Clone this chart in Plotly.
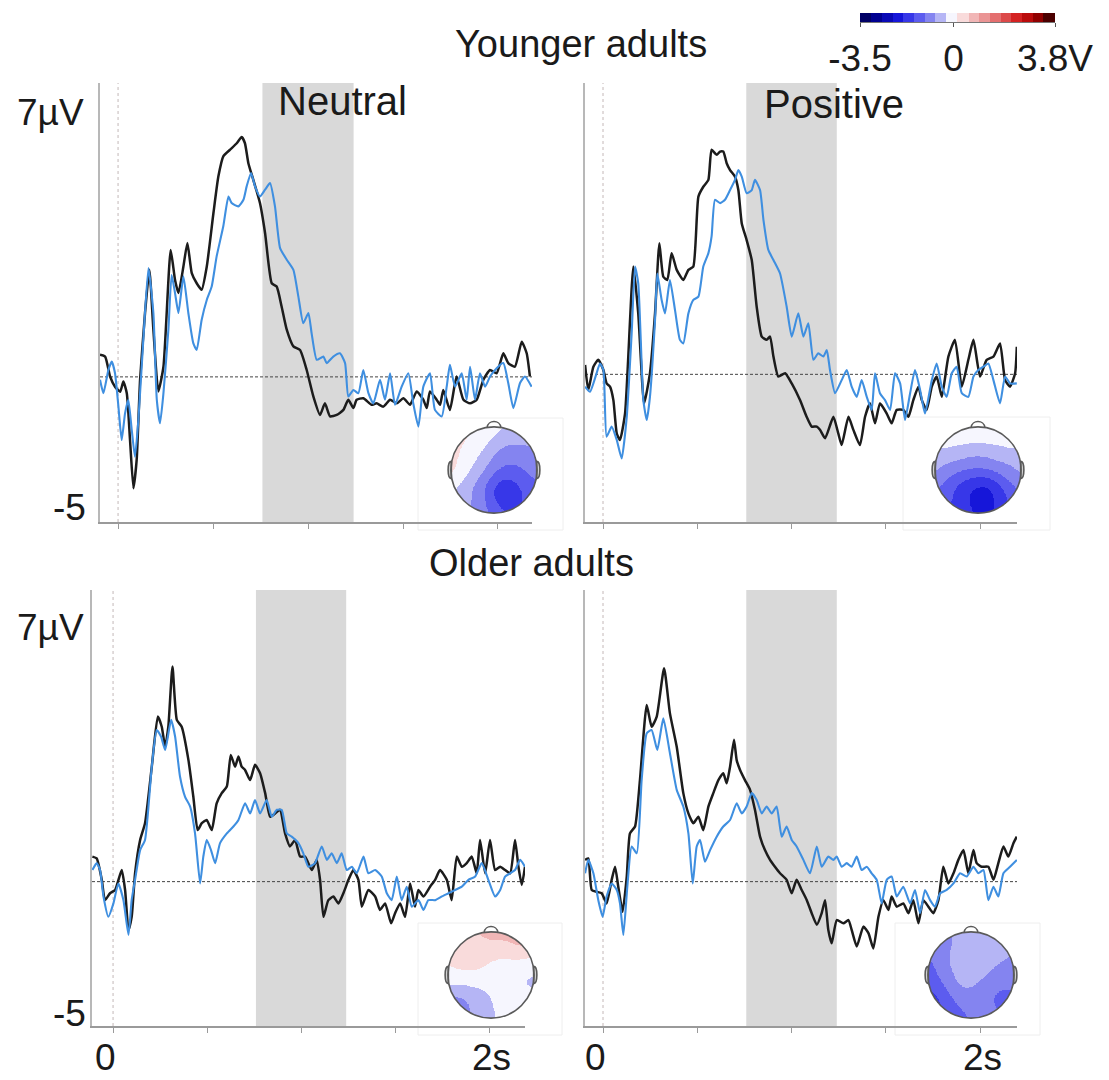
import numpy as np
import plotly.graph_objects as go

W, H = 1109, 1080
FONT = "Liberation Sans, Arial, sans-serif"
INK = "#1a1a1a"
BLACK_LINE = "#1c1c1c"
BLUE_LINE = "#3f8fe0"
SHADE = "#d9d9d9"

# ---------------------------------------------------------------------------
# ERP waveforms: (time in s, amplitude in µV)
# ---------------------------------------------------------------------------
young_neutral_black = [
    (-0.095, 0.61), (-0.068, 0.56), (-0.042, 0.01), (-0.016, -0.27), (0.011, -0.41), (0.028, -0.13),
    (0.046, -0.45), (0.063, -1.74), (0.081, -3.07), (0.098, -2.29), (0.116, -0.08), (0.142, 1.76),
    (0.165, 2.95), (0.186, 1.30), (0.212, -0.40), (0.239, 0.28), (0.277, 3.50), (0.300, 2.67),
    (0.318, 2.31), (0.344, 3.04), (0.365, 3.69), (0.388, 2.86), (0.414, 2.58), (0.440, 2.40),
    (0.467, 3.04), (0.502, 4.51), (0.528, 5.52), (0.554, 6.08), (0.589, 6.26), (0.625, 6.44),
    (0.651, 6.61), (0.668, 6.44), (0.686, 5.89), (0.712, 5.43), (0.747, 4.79), (0.774, 3.96),
    (0.809, 2.58), (0.835, 2.49), (0.861, 1.94), (0.888, 1.30), (0.923, 0.84), (0.958, 0.74),
    (0.993, 0.19), (1.028, -0.54), (1.063, -1.05), (1.089, -0.73), (1.116, -1.09), (1.151, -1.05),
    (1.186, -0.91), (1.212, -0.63), (1.239, -0.86), (1.256, -0.63), (1.291, -0.59), (1.335, -0.77),
    (1.361, -0.73), (1.396, -0.82), (1.432, -0.63), (1.467, -0.73), (1.502, -0.59), (1.537, -0.77),
    (1.572, -0.40), (1.607, -0.63), (1.625, -0.86), (1.642, -0.40), (1.677, -0.63), (1.695, -0.77),
    (1.712, -0.36), (1.747, -0.91), (1.782, 0.01), (1.818, -0.63), (1.853, -0.73), (1.888, -0.63),
    (1.923, -0.08), (1.958, 0.19), (1.993, 0.10), (2.028, 0.65), (2.054, 0.38), (2.089, 0.28),
    (2.125, 0.97), (2.151, 0.65), (2.168, 0.01),
]
young_neutral_blue = [
    (-0.095, -0.08), (-0.077, -0.45), (-0.051, 0.19), (-0.033, 0.42), (-0.016, 0.10), (0.002, -0.82),
    (0.019, -1.74), (0.037, -1.00), (0.054, -0.63), (0.072, -1.46), (0.089, -2.20), (0.107, -1.19),
    (0.133, 1.02), (0.160, 3.00), (0.186, 1.76), (0.204, -0.63), (0.221, -1.28), (0.239, -0.45),
    (0.265, 1.30), (0.282, 2.81), (0.300, 2.31), (0.318, 1.76), (0.344, 2.77), (0.370, 1.76),
    (0.396, 0.93), (0.414, 0.74), (0.440, 1.57), (0.467, 2.12), (0.493, 2.49), (0.519, 3.32),
    (0.554, 4.15), (0.581, 4.97), (0.598, 4.79), (0.633, 4.70), (0.660, 4.88), (0.677, 5.25),
    (0.700, 5.62), (0.721, 5.25), (0.747, 4.97), (0.774, 5.16), (0.800, 5.34), (0.826, 4.70),
    (0.853, 3.55), (0.888, 3.23), (0.923, 2.95), (0.949, 2.22), (0.975, 1.48), (1.002, 1.76),
    (1.019, 1.20), (1.046, 0.47), (1.081, 0.56), (1.098, 0.38), (1.133, 0.56), (1.168, 0.65),
    (1.195, 0.38), (1.212, -0.54), (1.239, -0.36), (1.265, -0.45), (1.291, 0.19), (1.318, -0.45),
    (1.344, -0.73), (1.379, -0.08), (1.405, -0.63), (1.432, 0.10), (1.458, -0.77), (1.493, -0.27),
    (1.528, 0.10), (1.554, -0.73), (1.581, -1.37), (1.607, -0.27), (1.642, 0.10), (1.668, -0.91),
    (1.704, -1.09), (1.730, -0.27), (1.747, 0.33), (1.774, -0.27), (1.809, 0.10), (1.835, -0.63),
    (1.853, 0.28), (1.879, -0.63), (1.905, 0.10), (1.932, -0.27), (1.958, 0.01), (1.993, 0.24),
    (2.028, 0.38), (2.054, -0.17), (2.081, -0.86), (2.116, -0.17), (2.142, 0.01), (2.177, -0.27),
]
young_positive_black = [
    (-0.095, 0.26), (-0.078, -0.43), (-0.051, 0.21), (-0.025, 0.40), (0.002, 0.12), (0.019, -0.25),
    (0.037, -0.34), (0.055, -0.71), (0.073, -1.63), (0.090, -1.81), (0.117, -1.08), (0.161, 2.97),
    (0.187, 1.68), (0.218, -0.80), (0.249, 0.03), (0.276, 1.68), (0.299, 3.61), (0.320, 2.69),
    (0.341, 2.60), (0.364, 3.34), (0.391, 2.88), (0.426, 2.60), (0.453, 2.88), (0.479, 2.97),
    (0.506, 4.90), (0.532, 5.17), (0.559, 5.36), (0.576, 6.19), (0.603, 6.05), (0.621, 6.14),
    (0.638, 6.14), (0.656, 5.82), (0.674, 5.63), (0.700, 5.45), (0.718, 5.08), (0.736, 4.16),
    (0.762, 3.70), (0.789, 3.15), (0.815, 1.87), (0.842, 1.04), (0.868, 0.95), (0.886, 1.04),
    (0.904, 0.49), (0.930, -0.06), (0.966, 0.03), (1.001, -0.25), (1.045, -0.71), (1.080, -1.17),
    (1.107, -1.44), (1.134, -1.44), (1.151, -1.53), (1.178, -1.76), (1.222, -1.17), (1.248, -1.63),
    (1.266, -1.95), (1.302, -1.17), (1.328, -1.53), (1.363, -1.95), (1.390, -1.17), (1.416, -0.80),
    (1.443, -1.35), (1.469, -0.80), (1.505, -1.08), (1.531, -1.35), (1.558, -0.98), (1.593, -0.98),
    (1.620, -1.17), (1.646, -0.71), (1.673, -0.34), (1.691, -0.71), (1.717, -0.98), (1.744, -0.34),
    (1.770, -0.06), (1.797, -0.62), (1.832, 0.49), (1.867, 0.95), (1.903, -0.34), (1.938, 0.40),
    (1.965, 0.95), (2.000, -0.06), (2.035, 0.40), (2.071, 0.49), (2.106, 0.85), (2.133, -0.16),
    (2.159, -0.34), (2.186, 0.03), (2.195, 0.76),
]
young_positive_blue = [
    (-0.095, -0.34), (-0.069, -0.48), (-0.034, 0.03), (-0.016, 0.30), (0.002, 0.12), (0.019, -1.72),
    (0.046, -1.44), (0.073, -1.81), (0.099, -2.32), (0.126, -1.17), (0.152, 1.13), (0.170, 2.97),
    (0.187, 2.51), (0.214, -0.71), (0.232, -1.26), (0.249, -0.62), (0.276, 1.50), (0.288, 2.78),
    (0.311, 2.05), (0.329, 1.68), (0.355, 2.60), (0.382, 1.77), (0.408, 0.95), (0.426, 0.85),
    (0.453, 1.68), (0.479, 2.05), (0.506, 2.14), (0.532, 2.97), (0.559, 3.34), (0.576, 3.80),
    (0.594, 4.81), (0.621, 4.72), (0.647, 4.81), (0.674, 5.08), (0.700, 5.36), (0.718, 5.63),
    (0.736, 5.45), (0.762, 4.99), (0.789, 5.08), (0.806, 5.36), (0.833, 5.08), (0.851, 4.26),
    (0.877, 3.43), (0.904, 3.15), (0.939, 2.78), (0.974, 1.87), (1.001, 1.04), (1.036, 1.68),
    (1.063, 1.04), (1.089, 1.41), (1.116, 0.40), (1.142, 0.58), (1.169, 0.49), (1.187, 0.67),
    (1.204, 0.12), (1.231, -0.52), (1.266, -0.16), (1.293, 0.12), (1.319, -0.34), (1.346, -0.62),
    (1.372, -0.16), (1.399, -0.62), (1.425, -0.98), (1.443, 0.03), (1.469, -0.52), (1.496, -0.71),
    (1.523, -0.98), (1.549, 0.03), (1.576, -0.25), (1.602, -1.26), (1.629, -0.52), (1.655, 0.12),
    (1.682, -0.43), (1.708, -1.08), (1.744, -0.16), (1.770, 0.30), (1.797, -0.34), (1.823, -0.62),
    (1.850, 0.03), (1.876, 0.21), (1.903, -0.52), (1.938, -0.62), (1.965, -0.06), (1.991, 0.12),
    (2.018, 0.21), (2.044, 0.30), (2.071, -0.16), (2.106, -0.80), (2.133, -0.06), (2.159, -0.25),
    (2.195, -0.25),
]
older_neutral_black = [
    (-0.110, 0.69), (-0.087, 0.64), (-0.060, 0.05), (-0.043, -0.51), (-0.016, -0.32), (0.011, -0.23),
    (0.046, 0.32), (0.064, -0.23), (0.082, -1.33), (0.099, -0.97), (0.117, 0.23), (0.144, 1.15),
    (0.170, 1.61), (0.206, 3.17), (0.238, 4.55), (0.259, 4.27), (0.277, 3.72), (0.294, 4.27),
    (0.316, 5.93), (0.339, 4.46), (0.365, 4.27), (0.401, 3.35), (0.427, 2.34), (0.450, 1.42),
    (0.472, 1.61), (0.498, 1.70), (0.525, 1.42), (0.551, 2.16), (0.578, 2.44), (0.605, 2.62),
    (0.626, 3.49), (0.649, 3.17), (0.667, 3.45), (0.684, 3.17), (0.702, 3.08), (0.729, 2.80),
    (0.755, 3.22), (0.782, 2.99), (0.809, 2.44), (0.835, 1.79), (0.862, 1.88), (0.888, 1.98),
    (0.915, 1.33), (0.941, 0.97), (0.968, 1.15), (0.995, 0.69), (1.021, 0.69), (1.057, 0.32),
    (1.083, 0.60), (1.101, 0.05), (1.119, -0.97), (1.145, -0.51), (1.172, -0.41), (1.199, -0.60),
    (1.225, -0.32), (1.252, 0.05), (1.278, 0.32), (1.305, 0.05), (1.323, -0.69), (1.358, -0.23),
    (1.394, -0.41), (1.420, -0.78), (1.447, -0.60), (1.479, -1.15), (1.500, -0.87), (1.527, -0.60),
    (1.553, -0.97), (1.580, -0.05), (1.606, -0.69), (1.624, -0.23), (1.651, -0.41), (1.686, -0.14),
    (1.713, 0.05), (1.739, 0.32), (1.775, 0.05), (1.801, -0.51), (1.828, 0.69), (1.855, 0.41),
    (1.881, 0.51), (1.908, 0.69), (1.934, 0.23), (1.952, 1.15), (1.979, 0.23), (2.005, 1.15),
    (2.032, 0.32), (2.059, 0.41), (2.085, 0.32), (2.112, 0.23), (2.138, 1.15), (2.156, 0.41),
    (2.174, -0.09), (2.191, 0.41),
]
older_neutral_blue = [
    (-0.110, 0.32), (-0.087, 0.51), (-0.069, 0.32), (-0.051, -0.41), (-0.025, -0.97), (0.002, -0.60),
    (0.028, -0.05), (0.055, -0.51), (0.082, -1.47), (0.099, -0.51), (0.117, 0.05), (0.144, 0.87),
    (0.170, 1.15), (0.206, 3.17), (0.232, 4.18), (0.255, 4.00), (0.277, 3.63), (0.309, 4.46),
    (0.330, 4.00), (0.356, 2.90), (0.383, 2.34), (0.410, 2.07), (0.436, 1.33), (0.463, -0.05),
    (0.480, 0.69), (0.498, 1.15), (0.521, 0.87), (0.543, 0.51), (0.569, 1.06), (0.605, 1.33),
    (0.640, 1.52), (0.667, 1.70), (0.702, 2.16), (0.729, 1.88), (0.755, 2.25), (0.782, 1.88),
    (0.817, 2.25), (0.844, 1.79), (0.871, 1.98), (0.897, 1.98), (0.924, 1.33), (0.950, 1.24),
    (0.986, 1.06), (1.012, 0.78), (1.039, 0.41), (1.074, 0.51), (1.110, 0.97), (1.137, 0.60),
    (1.163, 0.78), (1.190, 0.51), (1.216, 0.78), (1.243, 0.32), (1.270, 0.41), (1.296, 0.23),
    (1.332, 0.69), (1.358, 0.23), (1.394, 0.32), (1.429, 0.14), (1.456, -0.32), (1.482, -0.51),
    (1.509, 0.14), (1.535, -0.51), (1.562, -0.14), (1.589, -0.69), (1.624, -0.51), (1.651, -0.78),
    (1.677, -0.51), (1.713, -0.51), (1.748, -0.41), (1.784, -0.32), (1.819, -0.23), (1.855, -0.14),
    (1.890, 0.05), (1.926, 0.14), (1.961, 0.51), (1.996, 0.05), (2.032, -0.41), (2.059, -0.23),
    (2.085, 0.14), (2.112, 0.23), (2.138, 0.32), (2.165, 0.60), (2.191, 0.41),
]
older_positive_black = [
    (-0.095, 0.60), (-0.078, 0.64), (-0.060, -0.23), (-0.034, -0.28), (-0.007, -0.32), (0.019, -0.60),
    (0.046, 0.05), (0.064, 0.41), (0.081, -0.14), (0.104, -0.83), (0.126, 0.14), (0.143, 1.33),
    (0.170, 1.52), (0.196, 2.80), (0.232, 4.87), (0.258, 4.27), (0.285, 4.55), (0.324, 5.88),
    (0.355, 4.64), (0.391, 3.72), (0.426, 2.44), (0.453, 1.88), (0.479, 1.61), (0.506, 1.79),
    (0.532, 1.42), (0.559, 2.07), (0.585, 2.44), (0.612, 2.80), (0.638, 2.99), (0.656, 2.71),
    (0.674, 3.17), (0.695, 3.91), (0.709, 3.35), (0.727, 3.08), (0.753, 2.80), (0.780, 2.53),
    (0.806, 1.98), (0.833, 1.24), (0.859, 0.87), (0.886, 0.60), (0.912, 0.41), (0.939, 0.23),
    (0.974, 0.05), (1.001, -0.32), (1.027, 0.05), (1.054, -0.23), (1.081, -0.51), (1.107, -0.87),
    (1.134, -1.19), (1.160, -0.87), (1.178, -0.51), (1.195, -1.33), (1.213, -1.70), (1.240, -1.06),
    (1.275, -1.15), (1.302, -1.06), (1.319, -1.33), (1.346, -1.79), (1.381, -1.24), (1.408, -1.42),
    (1.434, -1.84), (1.461, -0.97), (1.487, -0.51), (1.514, -0.78), (1.531, -0.41), (1.558, -0.69),
    (1.593, -0.60), (1.620, -0.87), (1.646, -0.51), (1.673, -1.15), (1.699, -0.51), (1.726, -0.69),
    (1.752, -0.87), (1.779, -0.51), (1.805, 0.41), (1.832, -0.05), (1.859, 0.23), (1.885, 0.60),
    (1.912, 0.87), (1.938, 0.23), (1.965, 0.87), (1.982, 0.51), (2.009, 0.41), (2.044, 0.41),
    (2.071, 0.05), (2.097, 0.51), (2.124, 0.97), (2.150, 0.69), (2.177, 1.06), (2.195, 1.24),
]
older_positive_blue = [
    (-0.095, 0.23), (-0.078, 0.60), (-0.051, 0.23), (-0.025, -0.51), (-0.002, -0.97), (0.019, -0.41),
    (0.046, -0.05), (0.073, -0.23), (0.090, -0.60), (0.108, -1.47), (0.129, -0.14), (0.152, 0.97),
    (0.179, 0.78), (0.205, 2.80), (0.232, 4.09), (0.258, 4.18), (0.288, 3.63), (0.320, 4.50),
    (0.355, 3.54), (0.391, 2.53), (0.426, 2.07), (0.453, 1.33), (0.476, -0.05), (0.497, 0.97),
    (0.515, 1.15), (0.541, 0.55), (0.568, 0.87), (0.603, 1.24), (0.638, 1.52), (0.674, 1.70),
    (0.709, 2.16), (0.736, 1.88), (0.762, 2.07), (0.789, 2.44), (0.815, 2.25), (0.842, 1.88),
    (0.868, 2.07), (0.895, 1.88), (0.921, 2.07), (0.948, 1.24), (0.974, 1.52), (1.001, 1.15),
    (1.027, 0.97), (1.063, 0.60), (1.098, 0.23), (1.134, 0.97), (1.160, 0.41), (1.195, 0.69),
    (1.222, 0.60), (1.240, 0.69), (1.266, 0.41), (1.293, 0.51), (1.319, 0.41), (1.346, 0.69),
    (1.372, 0.32), (1.399, 0.41), (1.425, 0.23), (1.452, 0.05), (1.478, -0.60), (1.505, 0.05),
    (1.531, 0.14), (1.558, -0.41), (1.593, -0.14), (1.629, -0.60), (1.655, -0.23), (1.682, -0.87),
    (1.708, -0.23), (1.735, -0.51), (1.761, -0.69), (1.788, -0.32), (1.823, -0.23), (1.859, -0.05),
    (1.894, 0.23), (1.929, 0.14), (1.965, 0.41), (1.991, 0.23), (2.018, 0.32), (2.044, -0.51),
    (2.071, -0.14), (2.097, -0.41), (2.124, 0.23), (2.159, 0.41), (2.195, 0.60),
]

# analysis window highlighted in every panel (s)
window_start, window_end = 0.76, 1.24

# time ticks (s) and the two labelled ones
time_ticks = [0, 0.5, 1.0, 1.5, 2.0]
time_labels = [(0, "0"), (2.0, "2s")]

# ---------------------------------------------------------------------------
# Scalp maps: electrode layout on a unit head (nose up) and window amplitudes
# ---------------------------------------------------------------------------
electrode_x = [0.0, -0.6, 0.6, -0.3, 0.3, -0.9, -0.45, 0.0, 0.45, 0.9, -0.35, 0.2, -0.7, 0.7, -0.3, 0.3]
electrode_y = [0.9, 0.62, 0.62, 0.35, 0.35, 0.05, 0.0, 0.0, 0.0, 0.05, -0.4, -0.45, -0.55, -0.55, -0.85, -0.85]
topo_young_neutral = [-0.1, 0.3, -0.5, -0.3, -0.9, 0.4, -0.2, -1.0, -1.3, -0.8, -1.1, -2.4, -0.2, -1.3, -0.8, -1.4]
topo_young_positive = [0.1, 0.0, 0.0, -0.4, -0.4, -0.5, -1.0, -1.2, -1.0, -0.5, -2.1, -2.6, -1.0, -1.1, -1.8, -1.9]
topo_older_neutral = [0.7, 0.4, 0.8, 0.3, 0.1, 0.1, 0.3, 0.0, -0.4, -0.3, -0.5, -0.05, -1.0, -0.2, -0.6, -0.1]
topo_older_positive = [-0.3, -1.0, -0.5, -0.2, -0.1, -1.3, -0.9, -0.05, -1.1, -0.9, -0.4, -1.1, -2.0, -1.2, -1.2, -0.9]

# colour scale of the scalp maps
color_min, color_max = -3.5, 3.8
colorbar_ticks = [-3.5, 0, 3.8]
colorbar_labels = ["-3.5", "0", "3.8V"]
palette = [(-3.5, "#000050"), (-2.8, "#00009a"), (-2.1, "#1414d8"), (-1.5, "#4646ee"),
           (-0.9, "#8080f0"), (-0.4, "#bcbcf6"), (0.0, "#ffffff"), (0.5, "#f6cccc"),
           (1.1, "#eb9a9a"), (1.8, "#e05a5a"), (2.5, "#d21616"), (3.1, "#a00000"),
           (3.8, "#280000")]


def hex_rgb(h):
    return np.array([int(h[i:i + 2], 16) for i in (1, 3, 5)], dtype=float)


def palette_color(v):
    vals = [p[0] for p in palette]
    cols = np.array([hex_rgb(p[1]) for p in palette])
    rgb = [np.interp(v, vals, cols[:, k]) for k in range(3)]
    return "rgb(%d,%d,%d)" % tuple(int(round(c)) for c in rgb)


def stepped_colorscale(n_steps=18):
    edges = np.linspace(color_min, color_max, n_steps + 1)
    scale = []
    for i in range(n_steps):
        c = palette_color(0.5 * (edges[i] + edges[i + 1]))
        scale.append([i / n_steps, c])
        scale.append([(i + 1) / n_steps, c])
    return scale


COLORSCALE = stepped_colorscale()

grid = np.linspace(-1, 1, 141)
GX, GY = np.meshgrid(grid, grid)


def scalp_field(values, sigma=0.3):
    # Gaussian-weighted spatial interpolation of electrode amplitudes
    ex, ey, ev = np.array(electrode_x), np.array(electrode_y), np.array(values)
    d2 = (GX[..., None] - ex) ** 2 + (GY[..., None] - ey) ** 2
    w = np.exp(-d2 / (2 * sigma ** 2))
    z = (w * ev).sum(-1) / w.sum(-1)
    z[GX ** 2 + GY ** 2 > 1.0] = np.nan
    return z


def px_x(p):
    return p / W


def px_y(p):
    return 1 - p / H


# ---------------------------------------------------------------------------
# Panel layout (pixel boxes) and axis ranges
# ---------------------------------------------------------------------------
panels = [
    dict(black=young_neutral_black, blue=young_neutral_blue, box=(100, 532, 83, 522),
         xr=(-0.095, 2.179), yr=(-4.0, 8.1), labels=False),
    dict(black=young_positive_black, blue=young_positive_blue, box=(585, 1017, 83, 522),
         xr=(-0.0955, 2.196), yr=(-4.07, 8.03), labels=False),
    dict(black=older_neutral_black, blue=older_neutral_blue, box=(92, 525, 590, 1026),
         xr=(-0.112, 2.191), yr=(-3.98, 8.04), labels=True),
    dict(black=older_positive_black, blue=older_positive_blue, box=(585, 1017, 590, 1026),
         xr=(-0.0955, 2.196), yr=(-3.98, 8.04), labels=True),
]

heads = [
    dict(values=topo_young_neutral, center=(494, 470), frame=(418, 563, 418, 530)),
    dict(values=topo_young_positive, center=(978, 470), frame=(903, 1050, 417, 530)),
    dict(values=topo_older_neutral, center=(491, 975), frame=(418, 562, 923, 1035)),
    dict(values=topo_older_positive, center=(971, 975), frame=(895, 1040, 923, 1035)),
]

fig = go.Figure()
layout = {}
shapes = []
annotations = []

for i, p in enumerate(panels):
    n = "" if i == 0 else str(i + 1)
    xa, ya = "x" + n, "y" + n
    x0, x1, y0, y1 = p["box"]

    for series, color, width in ((p["black"], BLACK_LINE, 2.5), (p["blue"], BLUE_LINE, 2.1)):
        t, v = zip(*series)
        fig.add_trace(go.Scatter(
            x=t, y=v, mode="lines", xaxis=xa, yaxis=ya, showlegend=False, hoverinfo="skip",
            line=dict(color=color, width=width, shape="spline", smoothing=0.5)))

    layout["xaxis" + n] = dict(
        domain=[px_x(x0), px_x(x1)], range=list(p["xr"]), anchor=ya, automargin=False,
        showgrid=False, zeroline=False, showline=True, linecolor="#9a9a9a", linewidth=2,
        ticks="outside", ticklen=5, tickcolor="#9a9a9a", tickwidth=1,
        tickvals=time_ticks, showticklabels=False)
    layout["yaxis" + n] = dict(
        domain=[px_y(y1), px_y(y0)], range=list(p["yr"]), anchor=xa, automargin=False,
        showgrid=False, zeroline=False, showline=True, linecolor="#b8b8b8", linewidth=2,
        ticks="", showticklabels=False)

    # time labels under the lower panels, placed on the axis time scale
    if p["labels"]:
        for tv, txt in time_labels:
            annotations.append(dict(
                text=txt, x=tv, xref=xa, y=px_y(1057), yref="paper", showarrow=False,
                xanchor="center", yanchor="middle", xshift=-8 if tv == 0 else 2,
                font=dict(family=FONT, size=37, color=INK)))

    # analysis window
    shapes.append(dict(type="rect", xref=xa, yref=ya + " domain", x0=window_start, x1=window_end,
                       y0=0, y1=1, fillcolor=SHADE, line=dict(width=0), layer="below"))
    # stimulus onset
    shapes.append(dict(type="line", xref=xa, yref=ya + " domain", x0=0, x1=0, y0=0, y1=1,
                       line=dict(color="#c4b8b8", width=1, dash="dot"), layer="below"))
    # baseline
    shapes.append(dict(type="line", xref=xa + " domain", yref=ya, x0=0, x1=1, y0=0, y1=0,
                       line=dict(color="#444444", width=1, dash="3px,2px"), layer="below"))

# scalp maps
HALF = 56
HEAD_RANGE = [-1.3, 1.3]
for j, hd in enumerate(heads):
    k = str(5 + j)
    xa, ya = "x" + k, "y" + k
    cx, cy = hd["center"]
    fx0, fx1, fy0, fy1 = hd["frame"]
    shapes.append(dict(type="rect", xref="paper", yref="paper", x0=px_x(fx0), x1=px_x(fx1),
                       y0=px_y(fy1), y1=px_y(fy0), line=dict(color="#eeeeee", width=1),
                       fillcolor="rgba(0,0,0,0)", layer="below"))
    fig.add_trace(go.Heatmap(
        x=grid, y=grid, z=scalp_field(hd["values"]), xaxis=xa, yaxis=ya,
        colorscale=COLORSCALE, zmin=color_min, zmax=color_max, showscale=False,
        hoverinfo="skip", zsmooth=False))
    layout["xaxis" + k] = dict(domain=[px_x(cx - HALF), px_x(cx + HALF)], range=HEAD_RANGE,
                               visible=False, anchor=ya, automargin=False)
    layout["yaxis" + k] = dict(domain=[px_y(cy + HALF), px_y(cy - HALF)], range=HEAD_RANGE,
                               visible=False, anchor=xa, automargin=False)
    outline = dict(color="#5a5a5a", width=1.6)
    shapes.append(dict(type="path", xref=xa, yref=ya,
                       path="M -0.16 0.987 C -0.14 1.17 0.14 1.17 0.16 0.987",
                       line=outline, layer="above"))
    shapes.append(dict(type="path", xref=xa, yref=ya,
                       path="M -0.99 0.2 C -1.09 0.2 -1.09 -0.2 -0.99 -0.2 Z",
                       line=outline, fillcolor="#d0d0d0", layer="above"))
    shapes.append(dict(type="path", xref=xa, yref=ya,
                       path="M 0.99 0.2 C 1.09 0.2 1.09 -0.2 0.99 -0.2 Z",
                       line=outline, fillcolor="#d0d0d0", layer="above"))
    shapes.append(dict(type="circle", xref=xa, yref=ya, x0=-1, x1=1, y0=-1, y1=1,
                       line=outline, layer="above"))

# colour bar
cb_values = np.linspace(color_min, color_max, 147)
fig.add_trace(go.Heatmap(
    x=cb_values, y=[0], z=[cb_values], xaxis="x9", yaxis="y9", colorscale=COLORSCALE,
    zmin=color_min, zmax=color_max, showscale=False, hoverinfo="skip"))
layout["xaxis9"] = dict(domain=[px_x(860), px_x(1055)], range=[color_min, color_max], anchor="y9",
                        automargin=False,
                        showgrid=False, zeroline=False, showline=True, linecolor="#777777",
                        linewidth=1, ticks="outside", ticklen=4, tickcolor="#555555",
                        tickvals=colorbar_ticks, ticktext=colorbar_labels,
                        tickfont=dict(family=FONT, size=37, color=INK))
layout["yaxis9"] = dict(domain=[px_y(22), px_y(13)], range=[-0.5, 0.5], visible=False,
                        anchor="x9", automargin=False)


# text
def add_text(text, x, y, size, xanchor="center"):
    annotations.append(dict(text=text, x=px_x(x), y=px_y(y), xref="paper", yref="paper",
                            showarrow=False, xanchor=xanchor, yanchor="middle",
                            font=dict(family=FONT, size=size, color=INK)))


add_text("Younger adults", 581, 44, 38)
add_text("Older adults", 531, 563, 38)
add_text("Neutral", 342, 101, 40)
add_text("Positive", 834, 104, 40)
add_text("7µV", 50, 112, 37)
add_text("-5", 69, 508, 37)
add_text("7µV", 50, 627, 37)
add_text("-5", 69, 1013, 37)

fig.update_layout(
    width=W, height=H, margin=dict(l=0, r=0, t=0, b=0, autoexpand=False),
    paper_bgcolor="white", plot_bgcolor="rgba(0,0,0,0)",
    shapes=shapes, annotations=annotations, showlegend=False,
    **layout)

fig.write_html("out.html")
